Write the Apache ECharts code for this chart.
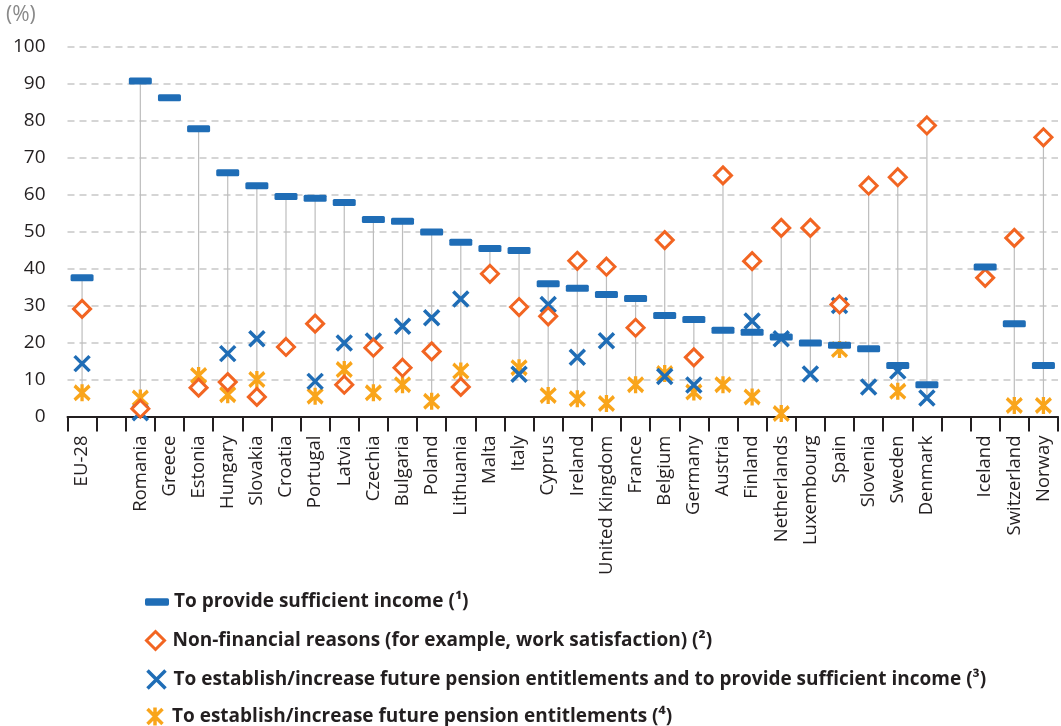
<!DOCTYPE html>
<html>
<head>
<meta charset="utf-8">
<script src="https://cdn.jsdelivr.net/npm/echarts@6/dist/echarts.min.js"></script>
<style>html,body{margin:0;padding:0;background:#fff;}#c{width:1061px;height:726px;}</style>
</head>
<body>
<div id="c"></div>
<script>
const categories = ['EU-28',' ','Romania','Greece','Estonia','Hungary','Slovakia','Croatia','Portugal','Latvia','Czechia','Bulgaria','Poland','Lithuania','Malta','Italy','Cyprus','Ireland','United Kingdom','France','Belgium','Germany','Austria','Finland','Netherlands','Luxembourg','Spain','Slovenia','Sweden','Denmark','  ','Iceland','Switzerland','Norway'];
const income = [37.5,null,90.7,86.2,77.8,65.9,62.4,59.5,59.0,57.9,53.3,52.8,49.9,47.1,45.4,44.9,35.9,34.7,33.0,31.9,27.3,26.2,23.3,22.8,21.5,19.9,19.3,18.3,13.8,8.6,null,40.4,25.1,13.8];
const nonFinancial = [29.1,null,2.1,null,7.8,9.3,5.3,18.8,25.1,8.6,18.6,13.2,17.6,8.0,38.6,29.6,27.1,42.1,40.5,24.0,47.7,16.0,65.2,42.0,51.0,51.0,30.3,62.4,64.7,78.7,null,37.5,48.3,75.5];
const pensionAndIncome = [14.3,null,1.0,null,null,17.0,21.0,null,9.5,19.9,20.4,24.4,26.7,31.8,null,11.4,30.3,16.0,20.5,null,10.8,8.5,null,25.8,21.0,11.5,30.0,8.0,12.3,5.0,null,null,null,null];
const pension = [6.4,null,5.0,null,11.1,5.9,10.0,null,5.5,12.7,6.4,8.6,4.1,12.3,null,13.2,5.7,4.8,3.5,8.6,11.6,6.6,8.6,5.3,0.8,null,18.1,null,6.8,null,null,null,3.0,3.0];
const yTicks = [0,10,20,30,40,50,60,70,80,90,100];
const names = [
  'To provide sufficient income (¹)',
  'Non-financial reasons (for example, work satisfaction) (²)',
  'To establish/increase future pension entitlements and to provide sufficient income (³)',
  'To establish/increase future pension entitlements (⁴)'
];

const BLUE = '#1f6db6', ORANGE = '#f26522', YELLOW = '#f9a51b';
const FONT = '"Open Sans", sans-serif';

// drop lines span from min to max of the values per category
const spans = categories.map((c, i) => {
  const v = [income[i], nonFinancial[i], pensionAndIncome[i], pension[i]].filter(x => x != null);
  return v.length >= 2 ? [i, Math.min(...v), Math.max(...v)] : [i, null, null];
});

const DASH = 'path://M1.5,0 L21.5,0 Q23,0 23,1.5 L23,5.5 Q23,7 21.5,7 L1.5,7 Q0,7 0,5.5 L0,1.5 Q0,0 1.5,0 Z';
const DIAM = 'path://M5,0 L10,5 L5,10 L0,5 Z';
const CROSS = 'path://M0,0 L10,10 M10,0 L0,10';
const STAR = 'path://M0,0 L10,10 M10,0 L0,10 M5,-1 L5,11';

const legendItems = [
  {name: names[0], icon: DASH, itemStyle: {color: BLUE, borderWidth: 0}},
  {name: names[1], icon: DIAM, itemStyle: {color: '#fff', borderColor: ORANGE, borderWidth: 3}},
  {name: names[2], icon: CROSS, itemStyle: {color: 'none', borderColor: BLUE, borderWidth: 3.5}},
  {name: names[3], icon: STAR, itemStyle: {color: 'none', borderColor: YELLOW, borderWidth: 3.5}}
];
const legendTops = [592, 630, 668, 705];
const legends = legendItems.map((item, k) => ({
  orient: 'vertical', left: 145, top: legendTops[k], padding: 0, itemWidth: 24, itemHeight: 18,
  symbolKeepAspect: true,
  textStyle: {fontFamily: FONT, fontSize: 19, lineHeight: 20, fontWeight: 'bold', color: '#231f20'},
  data: [item]
}));

const chart = echarts.init(document.getElementById('c'), null, {renderer: 'canvas'});
chart.setOption({
  animation: false,
  backgroundColor: '#fff',
  title: {text: '(%)', left: 6, top: 5, padding: 0, textStyle: {fontFamily: FONT, fontSize: 21, fontWeight: 'normal', color: '#8a8a8a'}},
  grid: {left: 67.5, right: 3, top: 46.7, bottom: 309.5, containLabel: false},
  legend: legends,
  xAxis: {
    type: 'category', data: categories, boundaryGap: true,
    axisLine: {lineStyle: {color: '#231f20', width: 2}},
    axisTick: {show: true, length: 15, lineStyle: {color: '#231f20', width: 2}, interval: 0},
    axisLabel: {rotate: 90, interval: 0, margin: 19, fontFamily: FONT, fontSize: 18.5, color: '#231f20'},
    splitLine: {show: false}
  },
  yAxis: {
    type: 'value', min: yTicks[0], max: yTicks[yTicks.length - 1], interval: 10,
    axisLine: {show: false}, axisTick: {show: false},
    axisLabel: {margin: 22, fontFamily: FONT, fontSize: 19, color: '#231f20'},
    splitLine: {lineStyle: {color: '#c8c8c8', width: 1.5, type: [7, 5]}}
  },
  series: [
    {
      type: 'custom', name: 'drop', silent: true, z: 1,
      data: spans, encode: {x: 0, y: [1, 2]},
      renderItem: function (params, api) {
        if (api.value(1) == null || isNaN(api.value(1))) return null;
        const p1 = api.coord([api.value(0), api.value(1)]);
        const p2 = api.coord([api.value(0), api.value(2)]);
        return {type: 'line', shape: {x1: p1[0], y1: p1[1], x2: p2[0], y2: p2[1]}, style: {stroke: '#bdbdbd', lineWidth: 1.2}};
      }
    },
    {type: 'scatter', name: names[3], data: pension, symbol: STAR, symbolKeepAspect: false, symbolSize: [15, 17], z: 3,
      itemStyle: {color: 'none', borderColor: YELLOW, borderWidth: 3.5, opacity: 1}},
    {type: 'scatter', name: names[2], data: pensionAndIncome, symbol: CROSS, symbolKeepAspect: false, symbolSize: 15, z: 4,
      itemStyle: {color: 'none', borderColor: BLUE, borderWidth: 3.5, opacity: 1}},
    {type: 'scatter', name: names[1], data: nonFinancial, symbol: DIAM, symbolKeepAspect: false, symbolSize: 17, z: 5,
      itemStyle: {color: '#fff', borderColor: ORANGE, borderWidth: 3, opacity: 1}},
    {type: 'scatter', name: names[0], data: income, symbol: DASH, symbolKeepAspect: false, symbolSize: [23, 7], z: 6,
      itemStyle: {color: BLUE, borderWidth: 0, opacity: 1}}
  ]
});
</script>
</body>
</html>
